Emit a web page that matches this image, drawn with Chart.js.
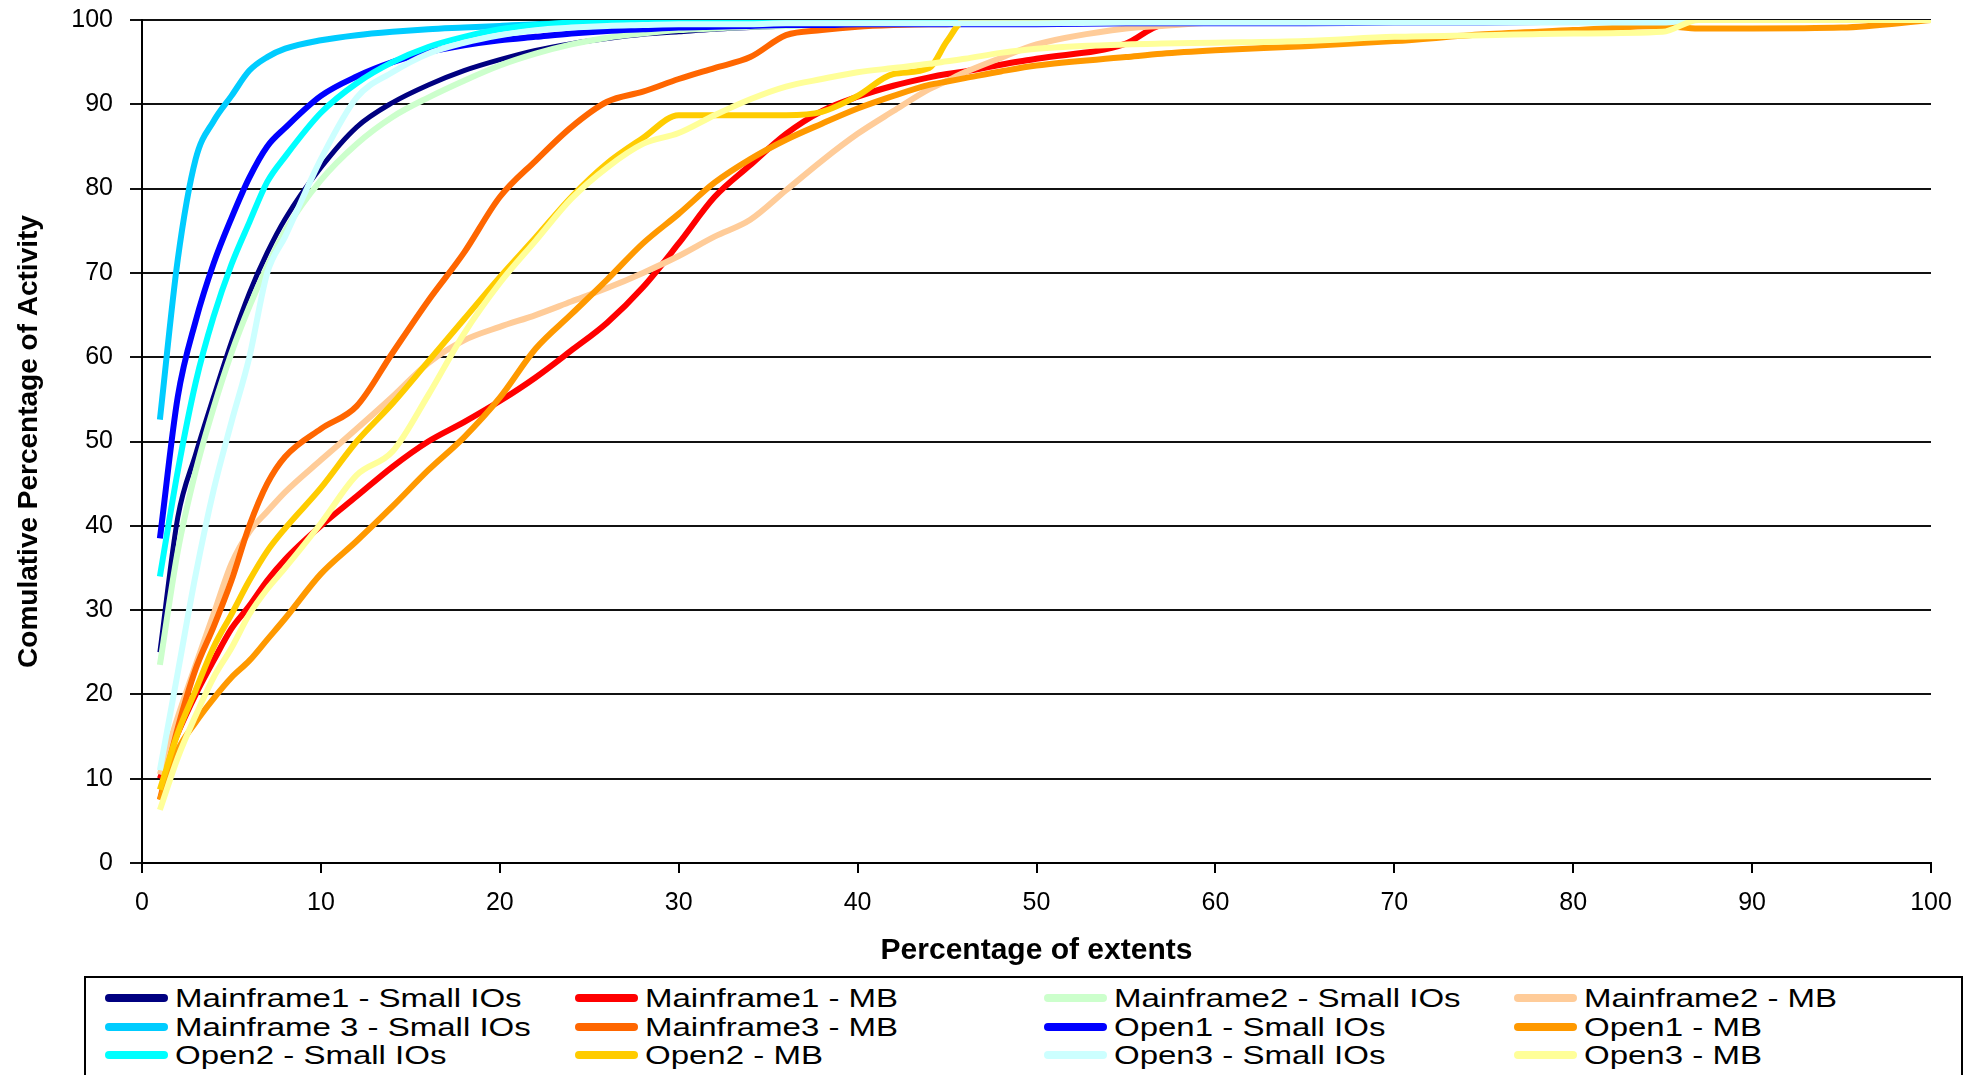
<!DOCTYPE html>
<html>
<head>
<meta charset="utf-8">
<title>Comulative Percentage of Activity</title>
<script src="https://cdn.jsdelivr.net/npm/chart.js@4.4.1/dist/chart.umd.min.js"></script>
<style>
  html, body { margin: 0; padding: 0; background: #fff; overflow: hidden; }
  #page { position: relative; width: 1982px; height: 1075px; overflow: hidden; background: #fff; }
  #chart { position: absolute; left: 0; top: 0; }
  .legend-box { position: absolute; left: 84px; top: 976px; width: 1879px; height: 130px; border: 2px solid #000; box-sizing: border-box; }
  .legend-item { position: absolute; height: 28px; width: 460px; }
  .legend-line { position: absolute; left: 0; top: 10px; width: 63px; height: 8px; border-radius: 4px; }
  .legend-text { position: absolute; left: 70px; top: 0; font-family: "Liberation Sans", Arial, sans-serif; font-size: 25px; line-height: 28px; white-space: nowrap; transform: scaleX(1.32); transform-origin: 0 50%; color: #000; }
</style>
</head>
<body>
<div id="page">
  <canvas id="chart" width="1982" height="975"></canvas>
  <div class="legend-box" id="legend"></div>
</div>
<script>
// DATA //

// x positions (percentage of extents) where the curves were read
const xs = [1, 2, 3, 4, 5, 6, 7, 8, 10, 12, 14, 16, 18, 20, 22, 24, 26, 28, 30, 32, 34, 36, 38, 40,
            42, 44, 45, 46, 48, 50, 55, 57, 60, 65, 70, 75, 80, 85, 87, 90, 95, 100];

const mainframe1Small = [25, 41, 48.5, 55.3, 61.8, 67.6, 72.4, 76.4, 82.5, 87.3, 90.2, 92.3, 94, 95.3, 96.4, 97.2, 97.8, 98.3, 98.6, 98.9, 99.1, 99.3, 99.4, 99.5,
                         99.6, 99.6, 99.7, 99.7, 99.7, 99.8, 99.8, 99.9, 100, 100, 100, 100, 100, 100, 100, 100, 100, 100];
const mainframe1MB = [10, 15.4, 20, 24, 27.8, 30.5, 33.5, 36, 40, 43.5, 47, 50, 52.3, 54.8, 57.6, 60.8, 64.1, 68.3, 73.5, 79, 82.8, 86.5, 89.2, 90.9,
                      92.2, 93.2, 93.6, 93.9, 94.7, 95.4, 97.2, 99.4, 99.7, 99.8, 99.9, 100, 100, 100, 100, 100, 100, 100];
const mainframe2Small = [23.5, 37, 46.5, 54, 60.5, 66, 70.8, 75, 81, 85.3, 88.5, 90.8, 92.8, 94.6, 96, 97.1, 97.9, 98.4, 98.8, 99, 99.2, 99.3, 99.4, 99.5,
                         99.6, 99.6, 99.7, 99.7, 99.7, 99.8, 99.8, 99.9, 100, 100, 100, 100, 100, 100, 100, 100, 100, 100];
const mainframe2MB = [10.5, 17.3, 23.5, 29.5, 35.5, 39.3, 41.7, 44, 47.8, 51.5, 55.3, 59.3, 62, 63.6, 65, 66.6, 68.2, 70, 72, 74.3, 76.3, 79.8, 83.3, 86.5,
                      89.2, 91.8, 92.8, 93.8, 95.5, 97.1, 99, 99.3, 99.7, 99.9, 100, 100, 100, 100, 100, 100, 100, 100];
const mainframe3Small = [52.6, 71.6, 83.5, 88, 91, 94, 95.6, 96.6, 97.6, 98.2, 98.6, 98.9, 99.1, 99.3, 99.5, 99.6, 99.7, 99.8, 99.9, 100, 100, 100, 100, 100,
                         100, 100, 100, 100, 100, 100, 100, 100, 100, 100, 100, 100, 100, 100, 100, 100, 100, 100];
const mainframe3MB = [7.5, 16, 23, 28, 33.5, 40, 45, 48.2, 51.5, 54.2, 60.5, 66.7, 72.4, 79, 83.3, 87.3, 90.3, 91.5, 93, 94.3, 95.6, 98.2, 98.8, 99.2,
                      99.4, 99.5, 99.5, 99.6, 99.6, 99.7, 99.8, 99.8, 99.9, 100, 100, 100, 100, 100, 100, 100, 100, 100];
const open1Small = [38.5, 55.3, 64.3, 71.1, 76.5, 81.3, 85, 87.2, 91, 93.3, 95, 96.2, 97, 97.6, 98, 98.4, 98.7, 98.9, 99.1, 99.2, 99.3, 99.4, 99.4, 99.5,
                    99.5, 99.5, 99.5, 99.5, 99.5, 99.5, 99.6, 99.6, 99.6, 99.6, 99.7, 99.7, 99.8, 100, 100, 100, 100, 100];
const open1MB = [7.5, 13.4, 16.7, 19.5, 22, 24, 26.5, 29, 34.3, 38.2, 42.3, 46.6, 50.5, 55.2, 61, 65.1, 69.2, 73.5, 77, 80.7, 83.5, 85.8, 87.7, 89.5,
                 91, 92.3, 92.7, 93.1, 93.9, 94.6, 95.6, 96, 96.4, 96.9, 97.5, 98.3, 98.8, 99.3, 99, 99, 99.1, 100];
const open2Small = [34, 46.5, 57, 64.8, 71, 76, 80.8, 83.8, 89, 92.5, 95, 96.8, 98, 98.9, 99.4, 99.7, 99.8, 99.9, 100, 100, 100, 100, 100, 100,
                    100, 100, 100, 100, 100, 100, 100, 100, 100, 100, 100, 100, 100, 100, 100, 100, 100, 100];
const open2MB = [8.7, 15.4, 20.5, 25.6, 29.5, 33.5, 37, 39.7, 44.5, 50, 54.5, 59.5, 64.5, 69.5, 74.2, 79, 83, 86, 88.7, 88.7, 88.7, 88.7, 89.1, 91,
                 93.6, 94.3, 97.5, 100, 100, 100, 100, 100, 100, 100, 100, 100, 100, 100, 100, 100, 100, 100];
const open3Small = [11, 22.6, 34.2, 44.2, 52.3, 60, 70, 74.3, 83.5, 90.8, 93.8, 96, 97.3, 98.2, 98.8, 99.1, 99.3, 99.4, 99.5, 99.5, 99.5, 99.6, 99.6, 99.6,
                    99.6, 99.6, 99.6, 99.6, 99.6, 99.6, 99.7, 99.7, 99.7, 99.7, 99.7, 99.7, 99.7, 99.7, 100, 100, 100, 100];
const open3MB = [6.3, 12.5, 17.5, 22, 25.5, 29.5, 32.5, 35, 40.3, 46, 48.8, 55.5, 62.8, 68.8, 73.8, 78.8, 82.5, 85.3, 86.6, 88.7, 90.6, 92.1, 93, 93.8,
                 94.3, 94.8, 95.1, 95.4, 96.1, 96.6, 97.1, 97.2, 97.3, 97.5, 98, 98.2, 98.4, 98.6, 100, 100, 100, 100];

const seriesNames = [
    'Mainframe1 - Small IOs', 'Mainframe1 - MB', 'Mainframe2 - Small IOs', 'Mainframe2 - MB',
    'Mainframe 3 - Small IOs', 'Mainframe3 - MB', 'Open1 - Small IOs', 'Open1 - MB',
    'Open2 - Small IOs', 'Open2 - MB', 'Open3 - Small IOs', 'Open3 - MB'
];
const seriesValues = [
    mainframe1Small, mainframe1MB, mainframe2Small, mainframe2MB,
    mainframe3Small, mainframe3MB, open1Small, open1MB,
    open2Small, open2MB, open3Small, open3MB
];
const seriesColors = [
    '#000080', '#FF0000', '#CCFFCC', '#FFCC99',
    '#00CCFF', '#FF6600', '#0000FF', '#FF9900',
    '#00FFFF', '#FFCC00', '#CCFFFF', '#FFFF99'
];

const fontFamily = '"Liberation Sans", Arial, sans-serif';

// CHART //

const datasets = seriesNames.map((name, i) => ({
    label: name,
    data: xs.map((x, j) => ({ x: x, y: seriesValues[i][j] })),
    borderColor: seriesColors[i],
    backgroundColor: seriesColors[i],
    borderWidth: i === 0 ? 5 : 6,
    pointRadius: 0,
    cubicInterpolationMode: 'monotone',
    // later series sit on top, like the original
    order: seriesNames.length - i
}));

const chart = new Chart(document.getElementById('chart'), {
    type: 'line',
    data: { datasets: datasets },
    options: {
        responsive: false,
        animation: false,
        devicePixelRatio: 1,
        layout: { padding: { top: 20, right: 51, bottom: 0, left: 0 } },
        plugins: {
            legend: { display: false },
            tooltip: { enabled: false }
        },
        scales: {
            x: {
                type: 'linear',
                min: 0,
                max: 100,
                ticks: { stepSize: 10, color: '#000', padding: 15, maxRotation: 0, font: { family: fontFamily, size: 25 } },
                grid: { drawOnChartArea: false, tickLength: 10, color: '#000', lineWidth: 2 },
                border: { color: '#000', width: 2 },
                title: {
                    display: true,
                    text: 'Percentage of extents',
                    color: '#000',
                    font: { family: fontFamily, size: 30, weight: 'bold' },
                    padding: { top: 0, bottom: 6 }
                },
                afterFit: scale => { scale.height = 112; }
            },
            y: {
                min: 0,
                max: 100,
                ticks: { stepSize: 10, color: '#000', padding: 17, font: { family: fontFamily, size: 25 } },
                grid: { tickLength: 12, color: '#111', lineWidth: 2 },
                border: { color: '#000', width: 2 },
                title: {
                    display: true,
                    text: 'Comulative Percentage of Activity',
                    color: '#000',
                    font: { family: fontFamily, size: 28, weight: 'bold' },
                    padding: { top: 12, bottom: 0 }
                },
                afterFit: scale => {
                    scale.width = 142;
                    // let the layout padding alone decide where the plot starts
                    scale.paddingTop = 0;
                    scale.paddingBottom = 0;
                }
            }
        }
    }
});

// LEGEND (4 columns, row by row) //

const legendBox = document.getElementById('legend');
let legendHtml = '';
seriesNames.forEach((name, i) => {
    const col = i % 4;
    const row = Math.floor(i / 4);
    const left = 19 + col * 469.5;
    const top = 6 + row * 28.5;
    legendHtml += `<div class="legend-item" style="left:${left}px;top:${top}px">` +
        `<span class="legend-line" style="background:${seriesColors[i]}"></span>` +
        `<span class="legend-text">${name}</span></div>`;
});
legendBox.innerHTML = legendHtml;
</script>
</body>
</html>
